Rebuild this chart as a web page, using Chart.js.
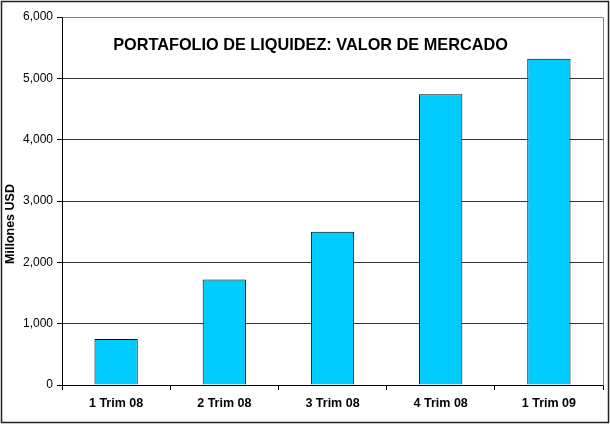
<!DOCTYPE html>
<html>
<head>
<meta charset="utf-8">
<title>Portafolio de liquidez</title>
<script src="https://cdn.jsdelivr.net/npm/chart.js@4/dist/chart.umd.min.js"></script>
<style>
  body { margin: 0; background: #fff; }
  #wrap { width: 610px; height: 424px; }
</style>
</head>
<body>
<div id="wrap"><canvas id="chart" width="610" height="424"></canvas></div>
<script>
// Datos
const categories = ['1 Trim 08', '2 Trim 08', '3 Trim 08', '4 Trim 08', '1 Trim 09'];
const marketValue = [750, 1720, 2500, 4740, 5320];
const yTicks = [0, 1000, 2000, 3000, 4000, 5000, 6000];
const chartTitle = 'PORTAFOLIO DE LIQUIDEZ: VALOR DE MERCADO';
const yTitle = 'Millones USD';

const FONT = '"Liberation Sans", Arial, sans-serif';

// Frame, plot border and texts drawn on the canvas
const decorations = {
    id: 'decorations',
    beforeDatasetsDraw(chart) {
        const { ctx, chartArea: a } = chart;
        ctx.save();
        ctx.strokeStyle = '#808080';
        ctx.lineWidth = 1;
        ctx.beginPath();
        ctx.moveTo(Math.round(a.left) + 0.5, Math.round(a.top) + 0.5);
        ctx.lineTo(Math.round(a.right) + 0.5, Math.round(a.top) + 0.5);
        ctx.lineTo(Math.round(a.right) + 0.5, Math.round(a.bottom) + 0.5);
        ctx.stroke();
        ctx.restore();
    },
    afterDraw(chart) {
        const { ctx, width, height } = chart;
        ctx.save();
        // outer frame
        ctx.strokeStyle = '#222';
        ctx.lineWidth = 1.5;
        ctx.strokeRect(1.5, 1.5, width - 3, height - 3);

        ctx.fillStyle = '#000';
        ctx.textAlign = 'center';
        ctx.textBaseline = 'middle';
        ctx.font = 'bold 16.3px ' + FONT;
        ctx.fillText(chartTitle, 310.5, 45.5);

        ctx.translate(11, 224);
        ctx.rotate(-Math.PI / 2);
        ctx.font = 'bold 12.5px ' + FONT;
        ctx.fillText(yTitle, 0, 0);
        ctx.restore();
    }
};

new Chart(document.getElementById('chart'), {
    type: 'bar',
    data: {
        labels: categories,
        datasets: [{
            data: marketValue,
            backgroundColor: '#00CCFF',
            borderColor: '#000',
            borderWidth: 1,
            categoryPercentage: 1,
            barPercentage: 0.4
        }]
    },
    options: {
        responsive: false,
        animation: false,
        devicePixelRatio: 1,
        layout: { padding: { top: 17, right: 7, left: 0, bottom: 0 } },
        plugins: {
            legend: { display: false },
            tooltip: { enabled: false },
            title: { display: false }
        },
        scales: {
            x: {
                afterFit(scale) { scale.height = 39; },
                grid: {
                    offset: true,
                    drawOnChartArea: false,
                    tickLength: 5,
                    tickColor: '#000'
                },
                border: { color: '#000', width: 1 },
                ticks: {
                    color: '#000',
                    padding: 6,
                    font: { family: FONT, size: 12.5, weight: 'bold' },
                    maxRotation: 0
                }
            },
            y: {
                min: 0,
                max: 6000,
                afterFit(scale) { scale.width = 62; },
                afterBuildTicks(scale) {
                    scale.ticks = yTicks.map(v => ({ value: v }));
                },
                grid: {
                    color: '#333',
                    tickLength: 5,
                    tickColor: '#000'
                },
                border: { color: '#000', width: 1 },
                ticks: {
                    color: '#000',
                    padding: 4,
                    font: { family: FONT, size: 12 },
                    callback: v => v.toLocaleString('en-US')
                }
            }
        }
    },
    plugins: [decorations]
});
</script>
</body>
</html>
